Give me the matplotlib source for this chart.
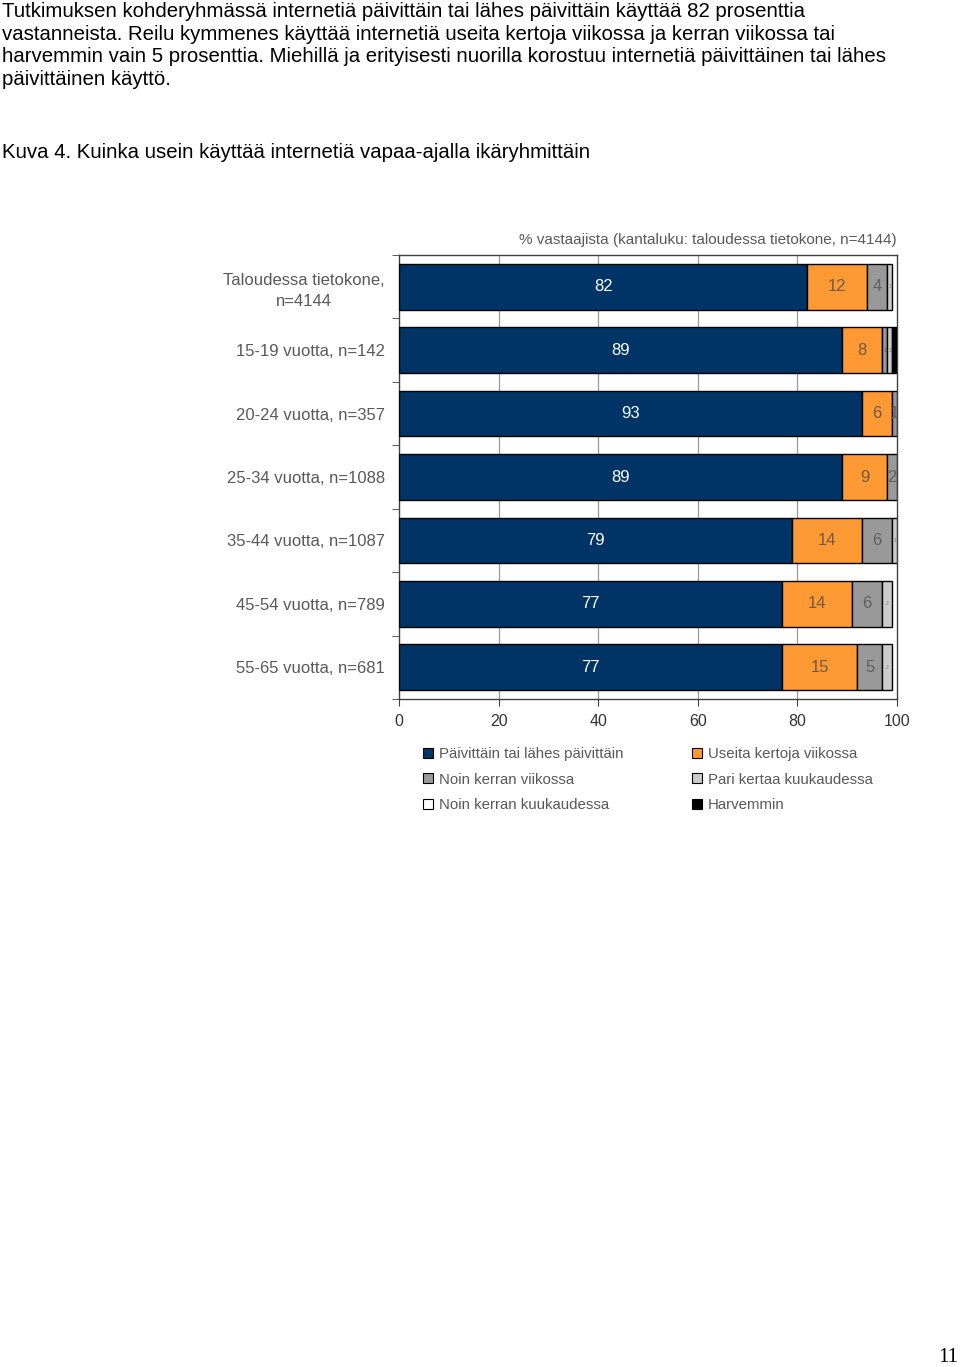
import matplotlib
matplotlib.use("Agg")
import matplotlib.pyplot as plt
from matplotlib.patches import Patch
import numpy as np

plt.rcParams['font.family'] = ['Liberation Sans', 'DejaVu Sans']

categories = ["Taloudessa tietokone,\nn=4144", "15-19 vuotta, n=142", "20-24 vuotta, n=357",
              "25-34 vuotta, n=1088", "35-44 vuotta, n=1087", "45-54 vuotta, n=789",
              "55-65 vuotta, n=681"]
series_names = ["Päivittäin tai lähes päivittäin", "Useita kertoja viikossa",
                "Noin kerran viikossa", "Pari kertaa kuukaudessa",
                "Noin kerran kuukaudessa", "Harvemmin"]
paivittain = [82, 89, 93, 89, 79, 77, 77]
useita = [12, 8, 6, 9, 14, 14, 15]
kerran_viikossa = [4, 1, 1, 2, 6, 6, 5]
pari_kertaa = [1, 1, 0, 0, 1, 2, 2]
kerran_kuussa = [0, 0, 0, 0, 0, 0, 0]
harvemmin = [0, 1, 0, 0, 0, 0, 0]
x_ticks = [0, 20, 40, 60, 80, 100]

colors = ["#003366", "#FF9933", "#999999", "#CCCCCC", "#FFFFFF", "#000000"]
label_colors = ["white", "#6e5a46", "#5f5f5f", "#777777", "#777777", "white"]

body = ("Tutkimuksen kohderyhmässä internetiä päivittäin tai lähes päivittäin käyttää 82 prosenttia\n"
        "vastanneista. Reilu kymmenes käyttää internetiä useita kertoja viikossa ja kerran viikossa tai\n"
        "harvemmin vain 5 prosenttia. Miehillä ja erityisesti nuorilla korostuu internetiä päivittäinen tai lähes\n"
        "päivittäinen käyttö.")
caption = "Kuva 4. Kuinka usein käyttää internetiä vapaa-ajalla ikäryhmittäin"
chart_title = "% vastaajista (kantaluku: taloudessa tietokone, n=4144)"

W, H = 960, 1367
fig = plt.figure(figsize=(W / 100, H / 100), dpi=100)
fig.text(2 / W, 1 - 2 / H, body, ha='left', va='top', fontsize=14.65, linespacing=1.235, color='black')
fig.text(2 / W, 1 - 152 / H, caption, ha='left', va='center', fontsize=14.65, color='black')
fig.text(897 / W, 1 - 240 / H, chart_title, ha='right', va='center', fontsize=11.0, color='#595959')
fig.text(948 / W, 1 - 1357 / H, "11", ha='center', va='center', fontsize=15,
         family=['Liberation Serif', 'DejaVu Serif'], color='black')

ax = fig.add_axes([399 / W, 1 - 699 / H, (897 - 399) / W, (699 - 255) / H])
data = [paivittain, useita, kerran_viikossa, pari_kertaa, kerran_kuussa, harvemmin]
n = len(categories)
ypos = np.arange(n)
left = np.zeros(n)
for si, vals in enumerate(data):
    vals = np.array(vals, dtype=float)
    mask = vals > 0
    ax.barh(ypos[mask], vals[mask], left=left[mask], height=0.72, color=colors[si],
            edgecolor='black', linewidth=1.0, zorder=3)
    for i in range(n):
        v = vals[i]
        if v <= 0 or si == 5:
            continue
        cx = left[i] + v / 2
        if si <= 1 or (si == 2 and (v >= 2 or i == 2)):
            fs = 12
        else:
            fs = 3.5
        ax.text(cx, ypos[i], f"{int(v)}", ha='center', va='center', fontsize=fs,
                color=label_colors[si], zorder=4, clip_on=True)
    left = left + vals

ax.set_xlim(0, 100)
ax.set_ylim(n - 0.5, -0.5)
ax.set_xticks(x_ticks)
ax.set_xticklabels([str(t) for t in x_ticks], fontsize=11.5, color='#333333')
ax.set_yticks(ypos)
ax.set_yticklabels(categories, fontsize=12, color='#595959')
for t in ax.get_yticklabels():
    t.set_multialignment('center')
    t.set_linespacing(1.45)
ax.tick_params(axis='y', length=0, pad=10)
ax.set_yticks(np.arange(-0.5, n + 0.5, 1), minor=True)
ax.tick_params(axis='y', which='minor', length=5, direction='out', color='#404040')
ax.tick_params(axis='x', length=5, direction='out', color='#404040', pad=6)
for x in x_ticks[1:-1]:
    ax.axvline(x, color='#999999', linewidth=0.9, zorder=1)
for s in ax.spines.values():
    s.set_color('#404040')
    s.set_linewidth(1.0)

order = [0, 2, 4, 1, 3, 5]
handles = [Patch(facecolor=colors[k], edgecolor='black', linewidth=0.8) for k in order]
labels = [series_names[k] for k in order]
leg = fig.legend(handles, labels, loc='upper left', bbox_to_anchor=(417 / W, 1 - 741 / H),
                 ncol=2, frameon=False, fontsize=10.8, handlelength=0.65, handleheight=0.65,
                 handletextpad=0.4, columnspacing=4.6, labelspacing=0.78, borderaxespad=0)
for t in leg.get_texts():
    t.set_color('#595959')

fig.savefig("out.png", dpi=100)
